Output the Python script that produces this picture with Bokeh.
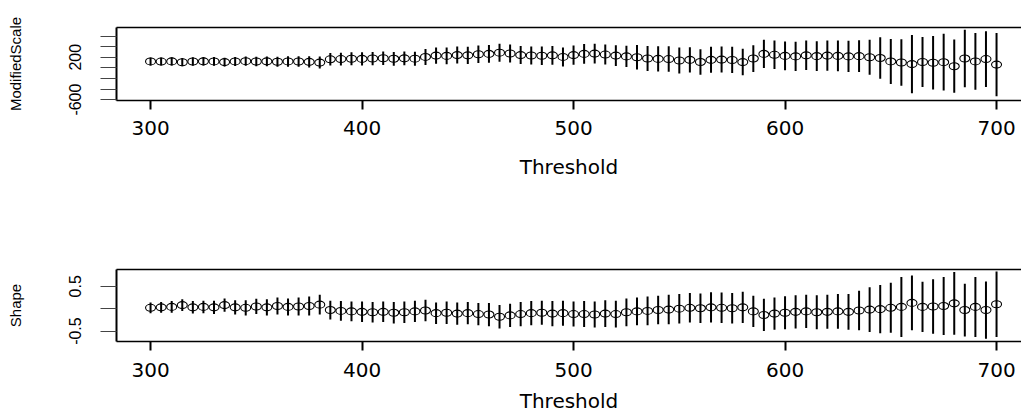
from bokeh.plotting import figure
from bokeh.layouts import column
from bokeh.models import ColumnDataSource, Range1d, FixedTicker, LinearAxis
from bokeh.embed import file_html
from bokeh.resources import INLINE

thresholds = list(range(300, 705, 5))

mod_scale = [120, 118, 121, 105, 118, 122, 120, 108, 120, 125, 118, 122, 115, 120, 118, 112, 98,
             160, 165, 170, 168,
             175, 180, 170, 178, 172, 205,
             230, 225, 240, 235,
             255, 262, 285, 270,
             240, 232, 228, 235, 205,
             240, 262, 268, 250,
             230, 215, 200,
             175, 168, 165, 138,
             150, 110, 150, 155, 148, 108, 175,
             262, 245, 225, 215, 235, 220, 230, 225, 215, 220, 200, 185,
             120, 100, 70, 110, 95, 106, 30, 175, 120, 165, 60]
mod_scale_half = [75, 75, 78, 78, 80, 80, 82, 82, 85,
                  88, 90, 92, 95, 98, 100, 105, 113,
                  118, 120, 122, 125, 125, 128, 130, 130, 132,
                  150, 155, 158, 160, 162, 165, 168, 170, 170,
                  170, 172, 175, 178, 180, 182, 185, 188, 190, 195, 200,
                  230, 235, 238, 240, 245,
                  240, 242, 245, 245, 248, 250, 252,
                  265, 268, 270, 275, 278, 280, 285, 290, 295, 300, 330,
                  390, 425,
                  440, 550, 472, 503, 535, 503, 541, 535, 525, 596]

shape = [0.02, 0.03, 0.04, 0.08, 0.03, 0.04, 0.03, 0.08, 0.03, 0.02, 0.05, 0.03, 0.06, 0.04, 0.05, 0.06, 0.09,
         -0.03, -0.05, -0.06, -0.07, -0.08, -0.07, -0.09,
         -0.08, -0.06, -0.04,
         -0.10, -0.09, -0.11, -0.10, -0.12, -0.13,
         -0.18, -0.15, -0.12,
         -0.10, -0.09, -0.11, -0.10, -0.12,
         -0.12, -0.13, -0.11, -0.12,
         -0.08, -0.06, -0.05, -0.03, -0.02, 0.00,
         0.02, 0.01, 0.03, 0.02, 0.01, 0.03,
         -0.06, -0.14, -0.11, -0.09,
         -0.07, -0.06, -0.08, -0.07, -0.06, -0.07,
         -0.04, -0.02, -0.01, 0.02,
         0.04, 0.13, 0.04, 0.05, 0.06, 0.12, -0.03, 0.04, -0.03, 0.10]
shape_half = [0.12, 0.12, 0.13, 0.13, 0.14, 0.14, 0.15, 0.15, 0.16, 0.17, 0.17, 0.18, 0.19, 0.19, 0.20, 0.21, 0.22,
              0.21, 0.22, 0.22, 0.23, 0.23, 0.23, 0.24, 0.24, 0.24,
              0.24, 0.24, 0.25, 0.25, 0.25, 0.25, 0.26, 0.26, 0.26, 0.27, 0.27, 0.27, 0.28, 0.28, 0.28,
              0.29, 0.29, 0.30, 0.30, 0.31, 0.31, 0.32, 0.32, 0.33, 0.33,
              0.33, 0.33, 0.34, 0.34, 0.34, 0.35, 0.35,
              0.36, 0.36, 0.37, 0.37, 0.37, 0.38, 0.38, 0.39, 0.40,
              0.44, 0.50, 0.54, 0.56,
              0.67, 0.61, 0.56, 0.61, 0.65, 0.70, 0.59, 0.67, 0.64, 0.73]

x_ticks = [300, 400, 500, 600, 700]
mod_scale_ticks = [-600, -400, -200, 0, 200, 400, 600]
mod_scale_tick_labels = ["-600", "", "", "", "200", "", ""]
shape_ticks = [-0.5, 0, 0.5]
shape_tick_labels = ["-0.5", "", "0.5"]


def panel(values, halves, ylabel, yrange, ticks, tick_labels, height, top, bottom,
          xl_standoff, xlab_standoff):
    lo = [v - h for v, h in zip(values, halves)]
    hi = [v + h for v, h in zip(values, halves)]
    src = ColumnDataSource(dict(x=thresholds, y=values, lo=lo, hi=hi))
    p = figure(width=1021, height=height,
               x_range=Range1d(283.9, 711.8), y_range=Range1d(*yrange),
               output_backend="svg", toolbar_location=None,
               min_border_left=116, min_border_right=0,
               min_border_top=top, min_border_bottom=bottom)
    p.grid.visible = False
    p.outline_line_color = None
    p.background_fill_color = "white"
    p.border_fill_color = "white"

    p.segment(x0="x", y0="lo", x1="x", y1="hi", source=src,
              line_color="black", line_width=2)
    p.ellipse(x="x", y="y", width=10, height=7,
              width_units="screen", height_units="screen",
              fill_color=None, line_color="black", line_width=1.1, source=src)

    xa = p.xaxis[0]
    xa.ticker = FixedTicker(ticks=x_ticks)
    xa.axis_label = "Threshold"
    xa.axis_label_text_font = "DejaVu Sans"
    xa.axis_label_text_font_size = "20px"
    xa.axis_label_text_font_style = "normal"
    xa.axis_label_text_color = "black"
    xa.axis_label_standoff = xlab_standoff
    xa.major_label_text_font = "DejaVu Sans"
    xa.major_label_text_font_size = "20px"
    xa.major_label_text_color = "black"
    xa.major_label_standoff = xl_standoff
    xa.major_tick_out = 9
    xa.major_tick_in = 0
    xa.major_tick_line_width = 2
    xa.major_tick_line_color = "black"
    xa.minor_tick_line_color = None
    xa.axis_line_width = 1.5
    xa.axis_line_color = "black"

    ya = p.yaxis[0]
    ya.ticker = FixedTicker(ticks=ticks)
    ya.major_label_overrides = {t: s for t, s in zip(ticks, tick_labels)}
    ya.major_label_orientation = "parallel"
    ya.axis_label = ylabel
    ya.axis_label_text_font = "Liberation Sans"
    ya.axis_label_text_font_size = "15px"
    ya.axis_label_text_font_style = "normal"
    ya.axis_label_text_color = "black"
    ya.axis_label_standoff = 43
    ya.major_label_text_font = "Liberation Sans"
    ya.major_label_text_font_size = "16px"
    ya.major_label_text_color = "black"
    ya.major_label_standoff = 19
    ya.major_tick_out = 16
    ya.major_tick_in = 0
    ya.major_tick_line_width = 1
    ya.major_tick_line_color = "#444444"
    ya.minor_tick_line_color = None
    ya.axis_line_width = 2
    ya.axis_line_color = "black"

    top_axis = LinearAxis(ticker=FixedTicker(ticks=[]), axis_line_width=1.5,
                          axis_line_color="black",
                          major_tick_line_color=None, minor_tick_line_color=None,
                          major_label_text_font_size="0px")
    p.add_layout(top_axis, "above")
    return p


p1 = panel(mod_scale, mod_scale_half, "ModifiedScale", (-617, 760.5),
           mod_scale_ticks, mod_scale_tick_labels, 248, 27, 148, 11, 17)
p2 = panel(shape, shape_half, "Shape", (-0.733, 0.876),
           shape_ticks, shape_tick_labels, 169, 21, 76, 12, 9)

layout = column(p1, p2)
open("out.html", "w").write(file_html(layout, INLINE))
